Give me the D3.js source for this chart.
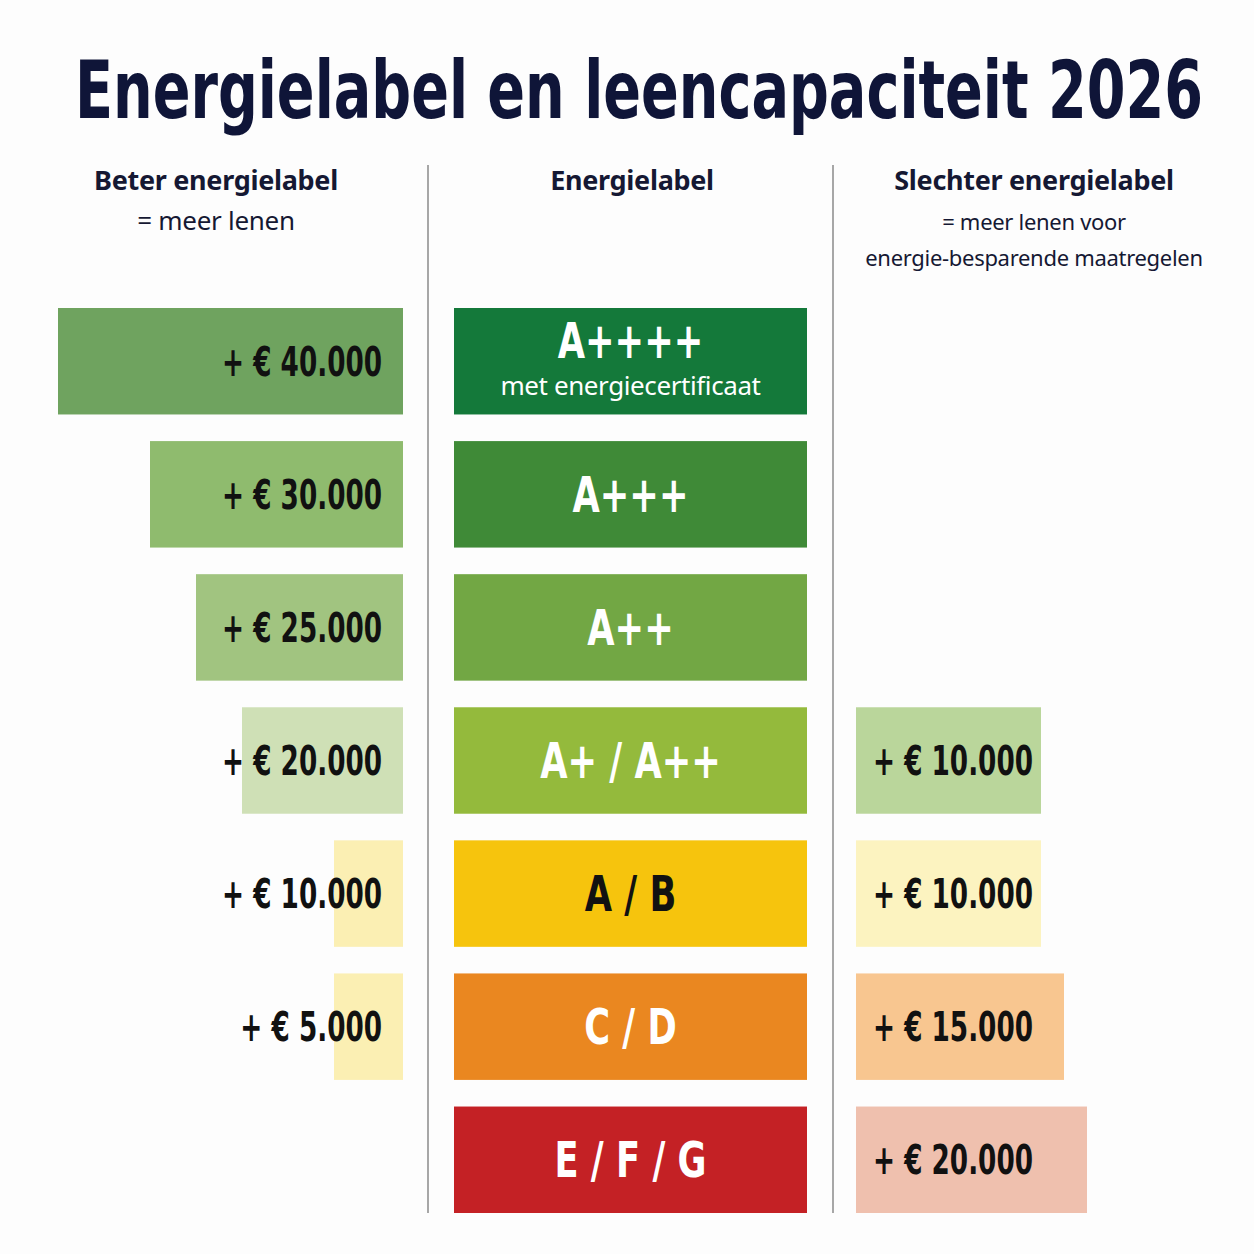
<!DOCTYPE html>
<html>
<head>
<meta charset="utf-8">
<script src="https://cdn.jsdelivr.net/npm/d3@7"></script>
<style>
  html, body { margin: 0; padding: 0; background: #fdfdfd; }
  .cond { font-family: "Liberation Sans Narrow", "DejaVu Sans Condensed", "Arial Narrow", sans-serif; font-stretch: condensed; }
  .head { font-family: "Noto Sans", "Open Sans", sans-serif; fill: #151833; }
</style>
</head>
<body>
<main></main>
<script>
// energy label rows, top (best) to bottom (worst)
const labels = ["A++++", "A+++", "A++", "A+ / A++", "A / B", "C / D", "E / F / G"];
const subLabels = ["met energiecertificaat", "", "", "", "", "", ""];
// extra borrowing capacity, better label (left) and worse label (right)
const betterValues = [40000, 30000, 25000, 20000, 10000, 5000, null];
const worseValues = [null, null, null, 10000, 10000, 15000, 20000];

const title = "Energielabel en leencapaciteit 2026";
const headers = [
	["Beter energielabel", "= meer lenen"],
	["Energielabel"],
	["Slechter energielabel", "= meer lenen voor", "energie-besparende maatregelen"]
];

const W = 1254, H = 1254;

const svg = d3.select("main")
	.append("svg")
	.attr("width", W)
	.attr("height", H);

const nl = d3.formatLocale({ decimal: ",", thousands: ".", grouping: [3], currency: ["€ ", ""] });
const fmt = (v) => "+ " + nl.format("$,")(v);

// squeeze a text horizontally (no narrow font installed)
function squeeze(sel, k) {
	sel.each(function() {
		const w = this.getComputedTextLength();
		d3.select(this)
			.attr("textLength", w * k)
			.attr("lengthAdjust", "spacingAndGlyphs");
	});
}

const rows = labels.map((l, i) => ({
	label: l,
	sub: subLabels[i],
	better: betterValues[i],
	worse: worseValues[i]
}));

// scales
const y = d3.scaleBand()
	.domain(labels)
	.range([308, 1213])
	.paddingInner(0.2);

const leftEdge = 403, midX0 = 454, midX1 = 807, rightX0 = 856;

const wLeft = d3.scaleLinear().domain([10000, 40000]).range([69, 345]).clamp(true);
const wRight = d3.scaleLinear().domain([10000, 20000]).range([185, 231]);

const labelColor = d3.scaleOrdinal().domain(labels)
	.range(["#14793a", "#3f8a37", "#72a744", "#94ba3c", "#f6c40d", "#ea8720", "#c42125"]);
const labelText = d3.scaleOrdinal().domain(labels)
	.range(["#fff", "#fff", "#fff", "#fff", "#111", "#fff", "#fff"]);
const betterColor = d3.scaleOrdinal().domain(labels)
	.range(["#6fa35f", "#8fbb6e", "#a1c480", "#cfe0b6", "#fbefb3", "#fbefb3", "#fff"]);
const worseColor = d3.scaleOrdinal().domain(labels)
	.range(["#fff", "#fff", "#fff", "#bad69b", "#fcf3c0", "#f8c690", "#efc0ae"]);

// title, scaled to span the page width
const titleText = svg.append("text")
	.attr("class", "cond")
	.attr("x", 0)
	.attr("y", 0)
	.style("font-size", "80px")
	.style("font-weight", 700)
	.style("fill", "#0f1538")
	.text(title);
const tw = titleText.node().getComputedTextLength();
titleText.attr("transform", `translate(75, 118) scale(${1128 / tw}, 1)`);

// column headers
const headX = [216, 632, 1034];
const subSize = [26, 24, 22];
headers.forEach((lines, c) => {
	const t = svg.append("text")
		.attr("class", "head")
		.attr("text-anchor", "middle");
	t.selectAll("tspan")
		.data(lines).enter()
		.append("tspan")
		.attr("x", headX[c])
		.attr("y", (d, i) => i == 0 ? 190 : 230 + (i - 1) * 36)
		.style("font-size", (d, i) => i == 0 ? "27px" : subSize[c] + "px")
		.style("font-weight", (d, i) => i == 0 ? 700 : 400)
		.style("letter-spacing", "-0.3px")
		.text((d) => d);
});

// dividers
svg.selectAll(".divider")
	.data([428, 833]).enter()
	.append("line")
	.attr("class", "divider")
	.attr("x1", (d) => d).attr("x2", (d) => d)
	.attr("y1", 165).attr("y2", y.range()[1])
	.style("stroke", "#8a8a8a")
	.style("stroke-width", 1.5);

// left bars (better label)
const left = svg.append("g").attr("class", "better")
	.selectAll("g")
	.data(rows.filter((d) => d.better != null)).enter()
	.append("g");

left.append("rect")
	.attr("x", (d) => leftEdge - wLeft(d.better))
	.attr("y", (d) => y(d.label))
	.attr("width", (d) => wLeft(d.better))
	.attr("height", y.bandwidth())
	.style("fill", (d) => betterColor(d.label));

left.append("text")
	.attr("class", "cond")
	.attr("x", leftEdge - 21)
	.attr("y", (d) => y(d.label) + y.bandwidth() / 2)
	.attr("dy", "0.36em")
	.attr("text-anchor", "end")
	.style("font-size", "40px")
	.style("font-weight", 700)
	.style("fill", "#111")
	.text((d) => fmt(d.better))
	.call(squeeze, 0.73);

// middle: energy labels
const mid = svg.append("g").attr("class", "labels")
	.selectAll("g")
	.data(rows).enter()
	.append("g");

mid.append("rect")
	.attr("x", midX0)
	.attr("y", (d) => y(d.label))
	.attr("width", midX1 - midX0)
	.attr("height", y.bandwidth())
	.style("fill", (d) => labelColor(d.label));

mid.append("text")
	.attr("class", "cond")
	.attr("x", (midX0 + midX1) / 2)
	.attr("y", (d) => y(d.label) + y.bandwidth() / 2 + (d.sub ? -21 : 0))
	.attr("dy", "0.36em")
	.attr("text-anchor", "middle")
	.style("font-size", "49px")
	.style("font-weight", 700)
	.style("fill", (d) => labelText(d.label))
	.text((d) => d.label)
	.call(squeeze, 0.8);

mid.filter((d) => d.sub)
	.append("text")
	.attr("x", (midX0 + midX1) / 2)
	.attr("y", (d) => y(d.label) + y.bandwidth() / 2 + 24)
	.attr("dy", "0.36em")
	.attr("text-anchor", "middle")
	.style("font-family", "'Noto Sans', 'Open Sans', sans-serif")
	.style("font-size", "26px")
	.style("letter-spacing", "-0.4px")
	.style("fill", "#fff")
	.text((d) => d.sub);

// right bars (worse label)
const right = svg.append("g").attr("class", "worse")
	.selectAll("g")
	.data(rows.filter((d) => d.worse != null)).enter()
	.append("g");

right.append("rect")
	.attr("x", rightX0)
	.attr("y", (d) => y(d.label))
	.attr("width", (d) => wRight(d.worse))
	.attr("height", y.bandwidth())
	.style("fill", (d) => worseColor(d.label));

right.append("text")
	.attr("class", "cond")
	.attr("x", rightX0 + 17)
	.attr("y", (d) => y(d.label) + y.bandwidth() / 2)
	.attr("dy", "0.36em")
	.style("font-size", "40px")
	.style("font-weight", 700)
	.style("fill", "#111")
	.text((d) => fmt(d.worse))
	.call(squeeze, 0.73);
</script>
</body>
</html>
